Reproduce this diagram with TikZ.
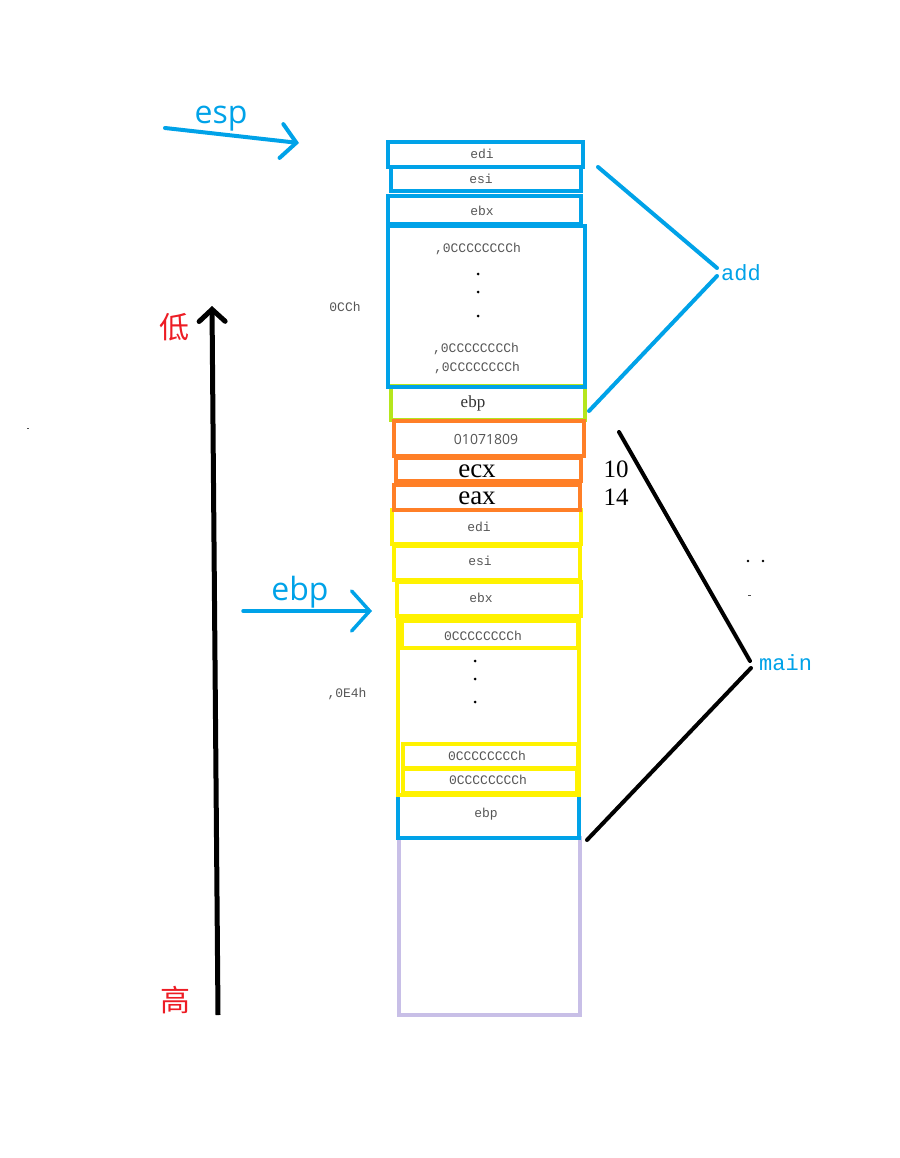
\documentclass[tikz,border=0pt]{standalone}
\usepackage{fontspec}
\usetikzlibrary{arrows.meta}
\newfontfamily\cjkf{Noto Sans CJK SC}
\newfontfamily\monof{Liberation Mono}
\newfontfamily\sansf{Open Sans}
\newfontfamily\seriff{Liberation Serif}
\definecolor{pblue}{HTML}{00A2E8}
\definecolor{porange}{HTML}{FF7F27}
\definecolor{pyellow}{HTML}{FFF200}
\definecolor{pgreen}{HTML}{B5E61D}
\definecolor{plav}{HTML}{C8BFE7}
\definecolor{pred}{HTML}{ED1C24}
\definecolor{ptext}{HTML}{555555}
\tikzset{
  cell/.style={draw, line width=4pt, inner sep=0pt, rectangle},
  bluecell/.style={cell, draw=pblue},
  orcell/.style={cell, draw=porange},
  yecell/.style={cell, draw=pyellow},
  mtxt/.style={font=\monof\fontsize{13}{15}\selectfont, text=ptext, inner sep=0pt},
  dotm/.style={circle, fill=black, inner sep=0pt, minimum size=3pt},
  bigtxt/.style={font=\seriff\fontsize{27}{29}\selectfont, text=black, inner sep=0pt, anchor=base},
  ptr/.style={pblue, line width=4pt, line cap=round},
  brace/.style={line width=4pt, line cap=round},
}
\begin{document}
\begin{tikzpicture}[x=1pt,y=-1pt]
\useasboundingbox (0,0) rectangle (899,1158);
% ---- bottom (main frame) ----
\node[cell, draw=plav, minimum width=181pt, minimum height=177pt] (lav) at (489.5,926.5) {};
\node[bluecell, minimum width=181pt, minimum height=43pt] (ebpM) at (488.5,816.5) {};
\node[mtxt] at (486,814) {ebp};
\node[yecell, minimum width=181pt, minimum height=177pt] (bigM) at (488.5,706.5) {};
\node[yecell, minimum width=176pt, minimum height=27pt] (in1) at (490,634.5) {};
\node[mtxt] at (483,636) {0CCCCCCCCh};
\node[yecell, minimum width=175pt, minimum height=24pt] (in2) at (490.5,756) {};
\node[mtxt] at (487,756) {0CCCCCCCCh};
\node[yecell, minimum width=174pt, minimum height=24pt] (in3) at (490,781) {};
\node[mtxt] at (488,780) {0CCCCCCCCh};
\node[dotm] at (475,661) {};
\node[dotm] at (475,679) {};
\node[dotm] at (475,702) {};
\node[yecell, minimum width=184pt, minimum height=34pt] (ebxM) at (489,599) {};
\node[mtxt] at (481,598) {ebx};
\node[yecell, minimum width=186pt, minimum height=34pt] (esiM) at (487,563) {};
\node[mtxt] at (480,561) {esi};
\node[yecell, minimum width=189pt, minimum height=34pt] (ediM) at (486.5,527) {};
\node[mtxt] at (479,527) {edi};
% ---- orange ----
\node[orcell, minimum width=186pt, minimum height=25pt] (eax) at (487,497.5) {};
\node[bigtxt] at (477,504) {eax};
\node[orcell, minimum width=185pt, minimum height=23pt] (ecx) at (488.5,469.5) {};
\node[bigtxt] at (477,477) {ecx};
\node[cell, draw=pgreen, minimum width=194pt, minimum height=34pt] (ebpG) at (488,403) {};
\node[font=\seriff\fontsize{17}{19}\selectfont, text=black!80, inner sep=0pt] at (473,403) {ebp};
\node[orcell, minimum width=190pt, minimum height=35pt] (ret) at (489,438.5) {};
\node[font=\sansf\fontsize{14}{16}\selectfont, text=ptext, inner sep=0pt] at (486,439) {01071809};
% ---- add frame ----
\node[bluecell, minimum width=197pt, minimum height=161pt] (bigA) at (486.5,306.5) {};
\node[mtxt] at (478,249) {,0CCCCCCCCh};
\node[dotm] at (478,274) {};
\node[dotm] at (478,292) {};
\node[dotm] at (478,316) {};
\node[mtxt] at (476,349) {,0CCCCCCCCh};
\node[mtxt] at (477,368) {,0CCCCCCCCh};
\node[bluecell, minimum width=193pt, minimum height=28pt] (ebxA) at (484.5,210) {};
\node[mtxt] at (482,211) {ebx};
\node[bluecell, minimum width=190pt, minimum height=24pt] (esiA) at (486,179) {};
\node[mtxt] at (481,179) {esi};
\node[bluecell, minimum width=195pt, minimum height=25pt] (ediA) at (485.5,154.5) {};
\node[mtxt] at (482,154) {edi};
% ---- side texts ----
\node[mtxt] (cch) at (345,307) {0CCh};
\node[mtxt] (e4h) at (347,694) {,0E4h};
\node[font=\seriff\fontsize{25}{27}\selectfont, inner sep=0pt, anchor=base] (ten) at (616,477) {10};
\node[font=\seriff\fontsize{25}{27}\selectfont, inner sep=0pt, anchor=base] (four) at (616,505) {14};
% ---- add brace ----
\coordinate (a1) at (598,167);
\coordinate (a2) at (717,268);
\coordinate (a3) at (717,276);
\coordinate (a4) at (589,411);
\draw[brace, pblue] (a1) -- (a2);
\draw[brace, pblue] (a3) -- (a4);
\node[font=\monof\fontsize{22}{24}\selectfont, text=pblue, inner sep=0pt, anchor=west] (addl) at (721,273) {add};
% ---- main brace ----
\coordinate (m1) at (619,432);
\coordinate (m2) at (750,661);
\coordinate (m3) at (751,668);
\coordinate (m4) at (587,840);
\draw[brace, black] (m1) -- (m2);
\draw[brace, black] (m3) -- (m4);
\node[font=\monof\fontsize{22}{24}\selectfont, text=pblue, inner sep=0pt, anchor=west] (mainl) at (759,663) {main};
\fill (748,561) circle (1.3pt);
\fill (763,561) circle (1.3pt);
\fill[black!70] (748,594.5) rectangle (751,595.5);
\fill[black!70] (27,427.5) rectangle (29,428.5);
% ---- pointers ----
\coordinate (espS) at (165,128);
\coordinate (espE) at (299,143);
\draw[ptr, -{Straight Barb[length=15pt, width=34pt, line cap=round]}] (espS) -- (espE);
\node[font=\sansf\fontsize{32}{34}\selectfont, text=pblue, inner sep=0pt, anchor=base] (espl) at (221,124) {esp};
\coordinate (ebpS) at (243,611);
\coordinate (ebpE) at (372,611);
\draw[ptr, line width=3.5pt, -{Straight Barb[length=18pt, width=40pt, line cap=round]}] (ebpS) -- (ebpE);
\node[font=\sansf\fontsize{32}{34}\selectfont, text=pblue, inner sep=0pt, anchor=base] (ebpl) at (300,600) {ebp};
% ---- vertical axis ----
\coordinate (vS) at (218,1015);
\coordinate (vE) at (212,306);
\draw[line width=5pt, -{Straight Barb[length=12pt, width=26pt, line cap=round]}] (vS) -- (vE);
\node[font=\cjkf\fontsize{30}{32}\selectfont, text=pred, inner sep=0pt] (low) at (174,327) {低};
\node[font=\cjkf\fontsize{30}{32}\selectfont, text=pred, inner sep=0pt] (high) at (175,1000) {高};
\end{tikzpicture}
\end{document}
